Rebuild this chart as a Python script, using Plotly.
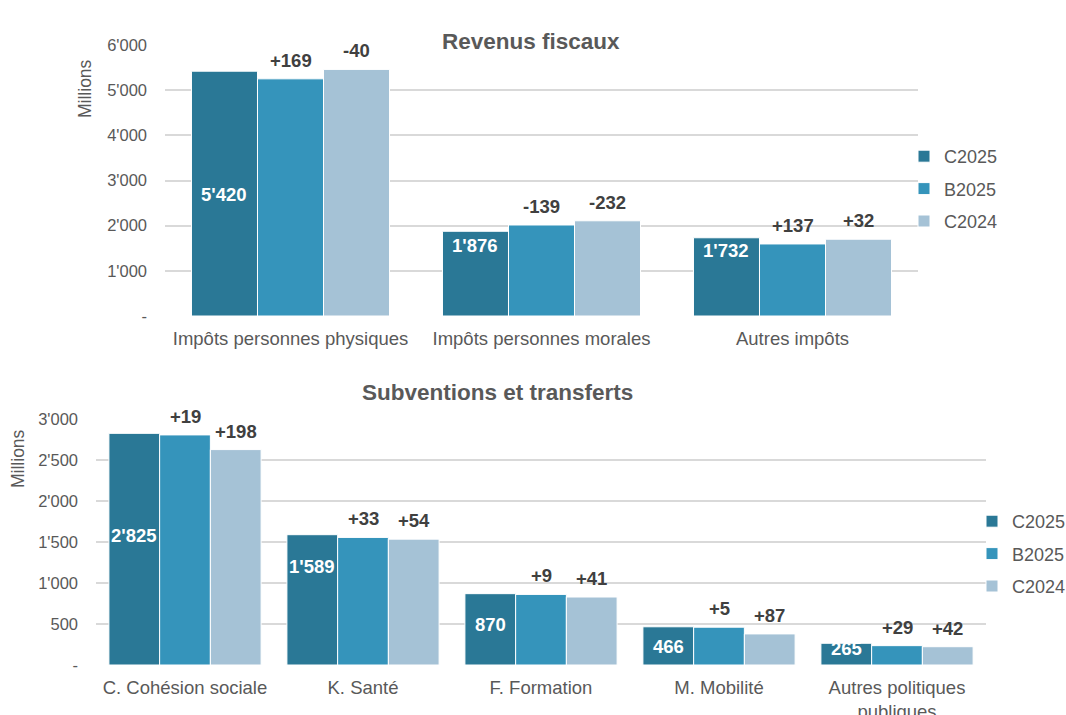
import plotly.graph_objects as go

# --- data -------------------------------------------------------------
SERIES = ["C2025", "B2025", "C2024"]
COLORS = ["#2a7896", "#3594bb", "#a5c2d6"]

TOP_CATS = ["Impôts personnes physiques", "Impôts personnes morales", "Autres impôts"]
TOP_C2025 = [5420, 1876, 1732]
TOP_B2025 = [5251, 2015, 1595]
TOP_C2024 = [5460, 2108, 1700]
TOP_LABEL_Y = [2680, 1570, 1460]   # where the white C2025 labels sit

BOT_CATS = ["C. Cohésion sociale", "K. Santé", "F. Formation", "M. Mobilité",
            "Autres politiques<br>publiques"]
BOT_C2025 = [2825, 1589, 870, 466, 265]
BOT_B2025 = [2806, 1556, 861, 461, 236]
BOT_C2024 = [2627, 1535, 829, 379, 223]
BOT_LABEL_Y = [1585, 1207, 488, 220, 207]

TOP_TICKS = [0, 1000, 2000, 3000, 4000, 5000, 6000]
BOT_TICKS = [0, 500, 1000, 1500, 2000, 2500, 3000]

W, H = 1066, 715
GREY = "#595959"
FONT = "Liberation Sans, Arial, sans-serif"


def fmt(v):
    return "-" if v == 0 else f"{v:,}".replace(",", "'")


def fmt_diff(d):
    return f"+{d}" if d >= 0 else f"{d}"


fig = go.Figure()
annotations = []


def add_block(cats, vals, label_y, bw, xa, ya, legend):
    c2025 = vals[0]
    for k, (name, col, v) in enumerate(zip(SERIES, COLORS, vals)):
        fig.add_trace(go.Bar(
            x=list(range(len(cats))), y=v, name=name, width=bw, offset=(k - 1.5) * bw,
            marker=dict(color=col, line=dict(color="white", width=1)),
            xaxis=xa, yaxis=ya, legend=legend, legendgroup=f"{legend}{k}",
            showlegend=True, hoverinfo="y"))
        for i, val in enumerate(v):
            xc = i + (k - 1) * bw
            if k == 0:
                annotations.append(dict(
                    x=xc, y=label_y[i], xref=xa, yref=ya, text=f"<b>{fmt(val)}</b>",
                    showarrow=False, font=dict(color="white", size=18.5, family=FONT)))
            else:
                annotations.append(dict(
                    x=xc, y=val, xref=xa, yref=ya, yanchor="bottom", yshift=6,
                    text=f"<b>{fmt_diff(c2025[i] - val)}</b>", showarrow=False,
                    font=dict(color="#404040", size=18.5, family=FONT)))


add_block(TOP_CATS, [TOP_C2025, TOP_B2025, TOP_C2024], TOP_LABEL_Y, 0.263, "x", "y", "legend")
add_block(BOT_CATS, [BOT_C2025, BOT_B2025, BOT_C2024], BOT_LABEL_Y, 0.285, "x2", "y2", "legend2")

axis_font = dict(color=GREY, size=16.5, family=FONT)
common_x = dict(showgrid=False, zeroline=False, showline=False, ticks="", ticklabelstandoff=9,
                tickfont=dict(color=GREY, size=18.5, family=FONT))
common_y = dict(showgrid=True, gridcolor="#d9d9d9", gridwidth=1.5, zeroline=False,
                showline=False, ticks="", ticklabelstandoff=17, tickfont=axis_font)
leg_font = dict(size=18, color=GREY, family=FONT)

fig.update_layout(
    width=W, height=H, margin=dict(l=0, r=0, t=0, b=0, autoexpand=False),
    plot_bgcolor="white", paper_bgcolor="white", font=dict(family=FONT, color=GREY),
    barmode="group",
    xaxis=dict(domain=[165 / W, 918 / W], anchor="y", range=[-0.5, 2.5],
               tickvals=list(range(3)), ticktext=TOP_CATS, **common_x),
    yaxis=dict(domain=[1 - 316 / H, 1 - 45 / H], anchor="x", range=[0, 6000],
               tickvals=TOP_TICKS, ticktext=[fmt(t) for t in TOP_TICKS], **common_y),
    xaxis2=dict(domain=[96 / W, 986 / W], anchor="y2", range=[-0.5, 4.5],
                tickvals=list(range(5)), ticktext=BOT_CATS, **common_x),
    yaxis2=dict(domain=[1 - 665 / H, 1 - 419 / H], anchor="x2", range=[0, 3000],
                tickvals=BOT_TICKS, ticktext=[fmt(t) for t in BOT_TICKS], **common_y),
    legend=dict(x=904 / W, y=1 - 138 / H, xanchor="left", yanchor="top", font=leg_font,
                tracegroupgap=6, itemwidth=30, bgcolor="rgba(0,0,0,0)"),
    legend2=dict(x=972 / W, y=1 - 503 / H, xanchor="left", yanchor="top", font=leg_font,
                 tracegroupgap=6, itemwidth=30, bgcolor="rgba(0,0,0,0)"),
    showlegend=True,
)

annotations += [
    dict(x=531 / W, y=1 - 27 / H, xref="paper", yref="paper", showarrow=False,
         text="<b>Revenus fiscaux</b>", font=dict(size=22.5, color=GREY, family=FONT)),
    dict(x=497 / W, y=1 - 392 / H, xref="paper", yref="paper", showarrow=False,
         text="<b>Subventions et transferts</b>", font=dict(size=22.5, color=GREY, family=FONT)),
    dict(x=85 / W, y=1 - 89 / H, xref="paper", yref="paper", showarrow=False, textangle=-90,
         xanchor="center", yanchor="middle",
         text="Millions", font=dict(size=17.5, color=GREY, family=FONT)),
    dict(x=18 / W, y=1 - 459 / H, xref="paper", yref="paper", showarrow=False, textangle=-90,
         xanchor="center", yanchor="middle",
         text="Millions", font=dict(size=17.5, color=GREY, family=FONT)),
]
fig.update_layout(annotations=annotations)

# the page's default body margin would push the figure 8px off; drop it
fig.write_html("out.html", config={"displayModeBar": False},
               post_script="document.body.style.margin='0';")
